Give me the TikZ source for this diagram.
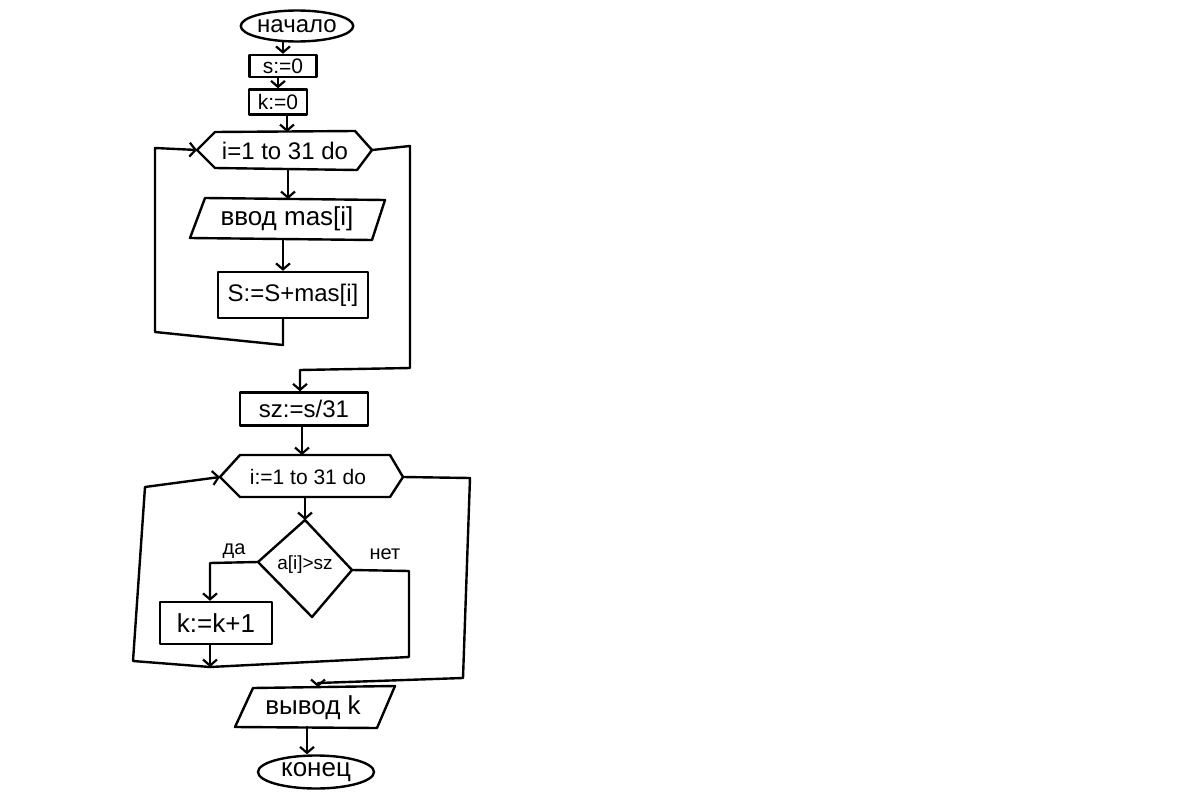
\documentclass[tikz,border=0pt]{standalone}
\usepackage{fontspec}
\setmainfont{Liberation Sans}
\usetikzlibrary{arrows.meta,shapes.geometric,calc}
\begin{document}
\begin{tikzpicture}[x=1pt,y=-1pt,line width=2.4pt,line join=round,line cap=round,
  arr/.style={-{Straight Barb[length=6pt,width=14pt,line width=2.2pt]}},
  txt/.style={font=\fontsize{24}{26}\selectfont,inner sep=0pt},
  box/.style={draw,rectangle,inner sep=0pt,txt},
  term/.style={draw,ellipse,inner sep=0pt,txt},
  lbl/.style={font=\fontsize{20}{22}\selectfont,inner sep=0pt}]
\useasboundingbox (0,0) rectangle (1200,800);
\fill[white] (0,0) rectangle (1200,800);

% start and initialisation
\node[term,minimum width=110pt,minimum height=31pt] (start) at (297,26) {начало};
\node[box,minimum width=67pt,minimum height=22pt,font=\fontsize{21}{23}\selectfont] (s0) at (283,66) {s:=0};
\node[box,minimum width=58pt,minimum height=25pt,font=\fontsize{21}{23}\selectfont] (k0) at (278,102) {k:=0};

% loop 1 hexagon
\coordinate (h1l) at (197,150);
\coordinate (h1tl) at (215,132);
\coordinate (h1tr) at (355,131);
\coordinate (h1r) at (372,150);
\coordinate (h1br) at (357,170);
\coordinate (h1bl) at (215,168);
\draw (h1l)--(h1tl)--(h1tr)--(h1r)--(h1br)--(h1bl)--cycle;
\node[txt] (loop1) at (285,151) {i=1 to 31 do};
\coordinate (h1t) at (287,132);
\coordinate (h1b) at (288,169);

% input parallelogram
\coordinate (p1a) at (205,198);
\coordinate (p1b) at (385,200);
\coordinate (p1c) at (372,240);
\coordinate (p1d) at (190,238);
\draw (p1a)--(p1b)--(p1c)--(p1d)--cycle;
\node[txt,font=\fontsize{26}{28}\selectfont] (in1) at (287,219) {ввод mas[i]};
\coordinate (i1t) at (288,199);
\coordinate (i1b) at (283,239);

% sum
\node[box,minimum width=150pt,minimum height=46pt] (sum) at (293,295) {S:=S+mas[i]};

% average
\node[box,minimum width=128pt,minimum height=33pt] (sz) at (304,409) {sz:=s/31};

% loop 2 hexagon
\coordinate (h2l) at (220,477);
\coordinate (h2tl) at (240,455);
\coordinate (h2tr) at (390,455);
\coordinate (h2r) at (403,477);
\coordinate (h2br) at (390,497);
\coordinate (h2bl) at (240,497);
\draw (h2l)--(h2tl)--(h2tr)--(h2r)--(h2br)--(h2bl)--cycle;
\node[txt,font=\fontsize{21}{23}\selectfont] (loop2) at (308,477) {i:=1 to 31 do};
\coordinate (h2t) at (302,455);
\coordinate (h2b) at (305,497);

% decision
\coordinate (dt) at (305,520);
\coordinate (dl) at (258,562);
\coordinate (dr) at (352,570);
\coordinate (db) at (312,617);
\draw (dt)--(dr)--(db)--(dl)--cycle;
\node[txt,font=\fontsize{19}{21}\selectfont] (cond) at (305,565) {a[i]>sz};

% increment
\node[box,minimum width=112pt,minimum height=42pt,font=\fontsize{26}{28}\selectfont] (inc) at (216,623) {k:=k+1};

% output parallelogram
\coordinate (p2a) at (253,688);
\coordinate (p2b) at (395,686);
\coordinate (p2c) at (377,728);
\coordinate (p2d) at (235,727);
\draw (p2a)--(p2b)--(p2c)--(p2d)--cycle;
\node[txt,font=\fontsize{26}{28}\selectfont] (out) at (313,708) {вывод k};
\coordinate (o1) at (318,687);
\coordinate (o2) at (307,727);

% end
\node[term,minimum width=116pt,minimum height=33pt,font=\fontsize{26}{28}\selectfont] (fin) at (316,772) {конец};

% labels
\node[lbl] (yes) at (234,551) {да};
\node[lbl] (no) at (385,554) {нет};

% connectors
\draw[arr] (start.south -| s0.north) -- (s0.north);
\draw[arr] (s0.south -| k0.north) -- (k0.north);
\draw[arr] (k0.south -| h1t) -- (h1t);
\draw[arr] (h1b) -- (i1t);
\draw[arr] (i1b) -- (i1b |- sum.north);

\coordinate (j1) at (283,345);
\coordinate (c1) at (155,332);
\coordinate (c2) at (155,148);
\draw[arr] (sum.south -| j1) -- (j1) -- (c1) -- (c2) -- (h1l);

\coordinate (x1) at (410,146);
\coordinate (x2) at (410,368);
\coordinate (x3) at (300,370);
\draw[arr] (h1r) -- (x1) -- (x2) -- (x3) -- (x3 |- sz.north);

\draw[arr] (sz.south -| h2t) -- (h2t);
\draw[arr] (h2b) -- (dt);

\coordinate (y1) at (210,563);
\draw[arr] (dl) -- (y1) -- (y1 |- inc.north);

\coordinate (n1) at (409,571);
\coordinate (n2) at (409,657);
\coordinate (m) at (210,667);
\draw (dr) -- (n1) -- (n2) -- (m);
\draw[arr] (inc.south -| m) -- (m);

\coordinate (b1) at (133,661);
\coordinate (b2) at (145,487);
\draw[arr] (m) -- (b1) -- (b2) -- (h2l);

\coordinate (e1) at (470,478);
\coordinate (e2) at (463,678);
\coordinate (e3) at (318,683);
\draw[arr] (h2r) -- (e1) -- (e2) -- (e3) -- (o1);

\draw[arr] (o2) -- (o2 |- fin.north);
\end{tikzpicture}
\end{document}
